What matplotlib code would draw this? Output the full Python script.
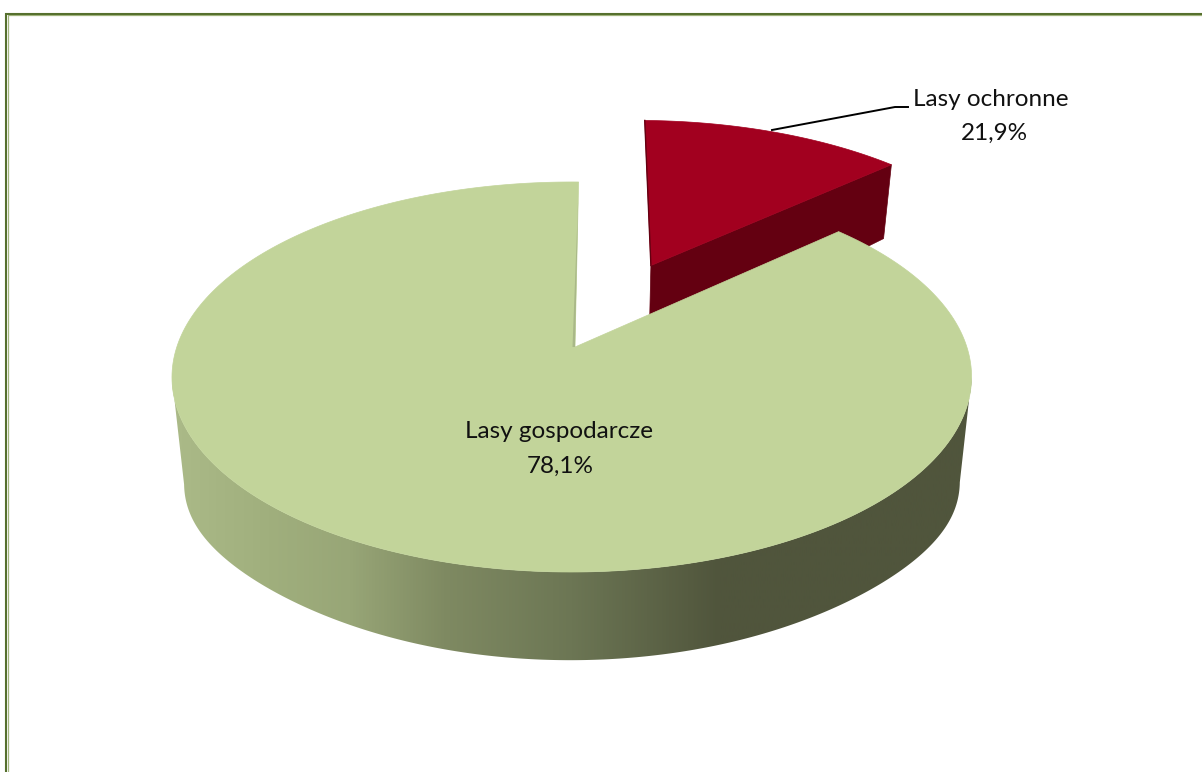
import numpy as np
import matplotlib
matplotlib.use("Agg")
import matplotlib.pyplot as plt
from matplotlib.colors import LinearSegmentedColormap
from matplotlib.patches import Polygon

# slice sizes as drawn in the picture (the labels say something else)
names = ["Lasy ochronne", "Lasy gospodarcze"]
drawn_share = [13.1, 86.9]
label_text = ["21,9%", "78,1%"]

plt.rcParams["font.family"] = ["Lato", "DejaVu Sans"]

# fake perspective of the 3d pie, in pixels
X0, Y0 = 575, 347
A, B = 395, 190.4
K = 0.1538
TILT = 0.008
DROP = 84
SHRINK = 0.03
START = 0.6
EXPLODE = 0.503


def project(u, v, low=False):
    w = 1 + K * v + TILT * u + (SHRINK if low else 0)
    y = -B * v / w
    if low:
        # the wall is a bit taller at the left and right ends
        bump = 1 + 0.3 * np.clip(1 - np.asarray(v) ** 2, 0, 1) ** 3
        y = y + DROP * bump / w
    return X0 + A * u / w, Y0 + y


def rim(a0, a1, ox=0, oy=0, low=False):
    t = np.radians(np.linspace(a0, a1, 300))
    x, y = project(ox + np.sin(t), oy + np.cos(t), low)
    return np.column_stack([x, y])


fig = plt.figure(figsize=(12.02, 7.72), dpi=100)
ax = fig.add_axes([0, 0, 1, 1])
ax.set_xlim(0, 1202)
ax.set_ylim(772, 0)
ax.axis("off")

# frame
ax.plot([7.6, 7.6, 1202], [772, 15.4, 15.4], color="#a3b67f", lw=0.9, solid_joinstyle="miter")
ax.plot([6, 6, 1202], [772, 14, 14], color="#56702e", lw=1.5, solid_joinstyle="miter")

sweep = np.array(drawn_share) / sum(drawn_share) * 360
red_end = START + sweep[0]
mid = np.radians(START + sweep[0] / 2)
ox, oy = EXPLODE * np.sin(mid), EXPLODE * np.cos(mid)

# red slice, goes under the green one
apex_top = project(ox, oy)
apex_low = project(ox, oy, True)
end_top = rim(red_end, red_end, ox, oy)[0]
end_low = rim(red_end, red_end, ox, oy, True)[0]
ax.add_patch(Polygon([apex_top, end_top, end_low, apex_low], color="#640011", lw=0.5, zorder=2))
red_rim = rim(START, red_end, ox, oy)
ax.add_patch(Polygon(np.vstack([[apex_top], red_rim]), color="#a2001f", lw=0.5, zorder=3))
ax.plot([red_rim[0][0], apex_top[0]], [red_rim[0][1], apex_top[1]], color="#640011", lw=1.0, zorder=3)

# green side with the left to right shading, from one silhouette end to the other
side = np.vstack([rim(99, 261), rim(99, 261, low=True)[::-1]])
side_patch = Polygon(side, transform=ax.transData, color="none")
ax.add_patch(side_patch)
side_cmap = LinearSegmentedColormap.from_list(
    "side",
    [(0.0, "#abba88"), (0.12, "#a0af7d"), (0.22, "#98a677"), (0.34, "#7f8a62"),
     (0.5, "#6c7654"), (0.685, "#50553c"), (1.0, "#50553c")],
)
grad = ax.imshow(np.linspace(0, 1, 512)[None, :], extent=(172, 972, 772, 0), aspect="auto",
                 cmap=side_cmap, zorder=4)
grad.set_clip_path(side_patch)
ax.set_xlim(0, 1202)
ax.set_ylim(772, 0)

# green top
green_rim = rim(red_end, START + 360)
apex = project(0, 0)
ax.add_patch(Polygon(np.vstack([[apex], green_rim]), color="#c2d49a", lw=0.5, zorder=5))
# thin cut face next to the notch
edge_tip = project(0.9 * np.sin(np.radians(START)), 0.9 * np.cos(np.radians(START)))
ax.add_patch(Polygon([edge_tip, apex, (apex[0] - 2.5, apex[1])], color="#a9b888", lw=0, zorder=6))

# leader line and labels
ax.plot([772, 895, 908], [130, 107, 107], color="black", lw=1.4, zorder=7)
ax.text(991, 100, names[0], fontsize=17.5, color="#111111", ha="center", va="center", zorder=8)
ax.text(994, 133, label_text[0], fontsize=17.5, color="#111111", ha="center", va="center", zorder=8)
ax.text(559, 431, names[1], fontsize=17.5, color="#111111", ha="center", va="center", zorder=8)
ax.text(560, 466, label_text[1], fontsize=17.5, color="#111111", ha="center", va="center", zorder=8)

fig.savefig("out.png", dpi=100)
